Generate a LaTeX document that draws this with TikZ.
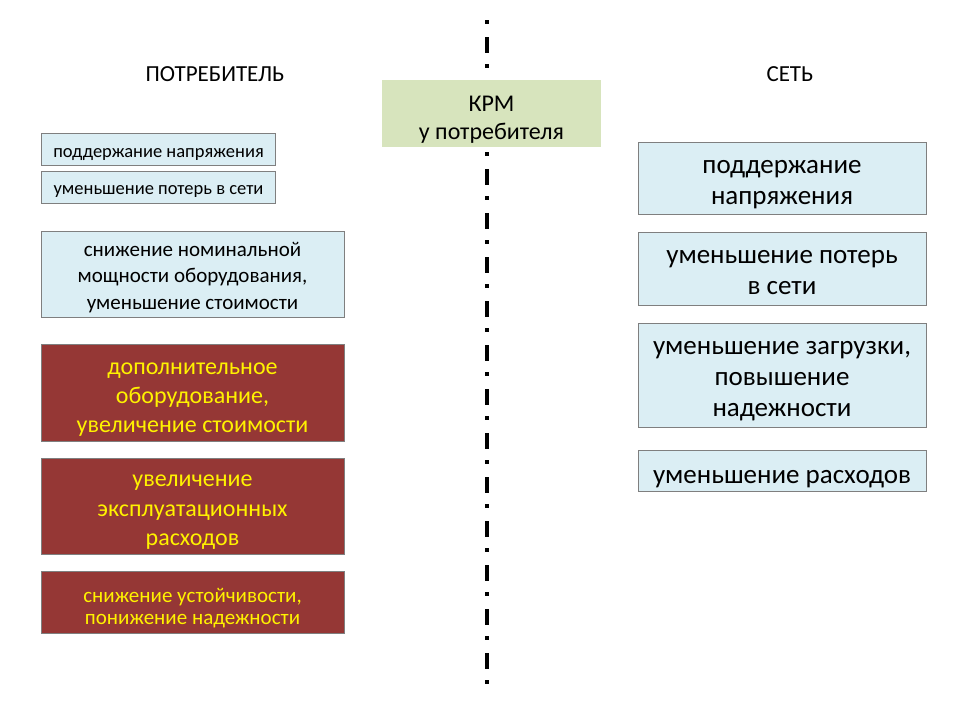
\documentclass[tikz,border=0pt]{standalone}
\usepackage{fontspec}
\setmainfont{Carlito}
\definecolor{boxblue}{HTML}{DBEEF4}
\definecolor{boxred}{HTML}{953735}
\definecolor{boxgreen}{HTML}{D7E4BD}
\definecolor{boxedge}{HTML}{7F7F7F}
% invisible struts: the middle baseline sits #1/2 em below the centre of the text block
\newcommand\sta[1]{\rule{0pt}{\dimexpr#1em+1em\relax}}
\newcommand\stb{\rule[-1em]{0pt}{1em}}
\begin{document}
\begin{tikzpicture}[x=1pt,y=-1pt,
  boxbase/.style={inner sep=0pt,anchor=center},
  bluebox/.style={boxbase,draw=boxedge,line width=0.8pt,fill=boxblue},
  redbox/.style={boxbase,draw=boxedge,line width=0.8pt,fill=boxred},
  greenbox/.style={boxbase,fill=boxgreen},
  txt/.style={inner sep=0pt,align=center,anchor=center,text=black},
  ytxt/.style={txt,text=yellow},
  title/.style={inner sep=0pt,anchor=base,text=black,font=\fontsize{23}{27}\selectfont},
  small/.style={font=\fontsize{18.5}{22}\selectfont},
  mid/.style={font=\fontsize{21}{26.5}\selectfont},
  midtight/.style={font=\fontsize{21}{22.5}\selectfont},
  big/.style={font=\fontsize{24}{29.3}\selectfont},
  large/.style={font=\fontsize{27}{31}\selectfont},
  axis/.style={line width=4pt,dash pattern=on 4pt off 13pt on 16pt off 11pt}]
\useasboundingbox (0,0) rectangle (960,720);
\coordinate (top) at (487,20);
\coordinate (bottom) at (487,688);
\draw[axis] (top) -- (bottom);

\node[title] (cons) at (215,81) {ПОТРЕБИТЕЛЬ};
\node[title] (net) at (790,81) {СЕТЬ};

\node[greenbox,minimum width=219pt,minimum height=67pt] (krm) at (491.5,113.5) {};
\node[txt,font=\fontsize{24}{28}\selectfont] (krmt) at (krm.center) {\sta{1.0}КРМ\\у потребителя\stb};

\node[bluebox,minimum width=234pt,minimum height=32pt] (l1) at (158.5,149.5) {};
\node[txt,small] (l1t) at (l1.center) {\sta{.85}поддержание напряжения\stb};
\node[bluebox,minimum width=234pt,minimum height=32pt] (l2) at (158.5,187) {};
\node[txt,small] (l2t) at (l2.center) {\sta{.85}уменьшение потерь в сети\stb};
\node[bluebox,minimum width=303pt,minimum height=86pt] (l3) at (192.5,274) {};
\node[txt,mid] (l3t) at (l3.center) {\sta{.85}снижение номинальной\\мощности оборудования,\\уменьшение стоимости\stb};

\node[redbox,minimum width=303pt,minimum height=97pt] (l4) at (192.5,392.5) {};
\node[ytxt,big] (l4t) at (l4.center) {\sta{.9}дополнительное\\оборудование,\\увеличение стоимости\stb};
\node[redbox,minimum width=303pt,minimum height=96pt] (l5) at (192.5,506) {};
\node[ytxt,big] (l5t) at (l5.center) {\sta{.85}увеличение\\эксплуатационных\\расходов\stb};
\node[redbox,minimum width=303pt,minimum height=62pt] (l6) at (192.5,602) {};
\node[ytxt,midtight] (l6t) at (l6.center) {\sta{1.1}снижение устойчивости,\\понижение надежности\stb};

\node[bluebox,minimum width=288pt,minimum height=72pt] (r1) at (782,178) {};
\node[txt,large] (r1t) at (r1.center) {\sta{.8}поддержание\\напряжения\stb};
\node[bluebox,minimum width=288pt,minimum height=73pt] (r2) at (782,268.5) {};
\node[txt,large] (r2t) at (r2.center) {\sta{.8}уменьшение потерь\\в сети\stb};
\node[bluebox,minimum width=288pt,minimum height=104pt] (r3) at (782,375) {};
\node[txt,large] (r3t) at (r3.center) {\sta{.8}уменьшение загрузки,\\повышение\\надежности\stb};
\node[bluebox,minimum width=288pt,minimum height=41pt] (r4) at (782,471) {};
\node[txt,large] (r4t) at (r4.center) {\sta{.95}уменьшение расходов\stb};
\end{tikzpicture}
\end{document}
